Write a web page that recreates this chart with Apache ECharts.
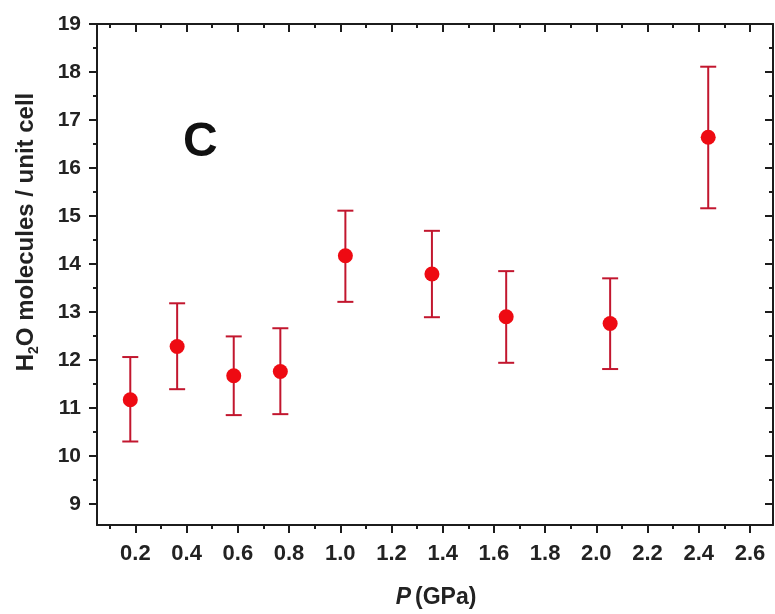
<!DOCTYPE html>
<html>
<head>
<meta charset="utf-8">
<script src="https://cdn.jsdelivr.net/npm/echarts@6/dist/echarts.min.js"></script>
<style>html,body{margin:0;padding:0;background:#fff;}#c{width:775px;height:614px;}</style>
</head>
<body>
<div id="c"></div>
<script>
// Data
var pressure = [0.18, 0.363, 0.584, 0.766, 1.02, 1.358, 1.648, 2.054, 2.437];
var waterCount = [11.17, 12.28, 11.67, 11.76, 14.17, 13.79, 12.90, 12.76, 16.64];
var errUpper = [12.06, 13.18, 12.49, 12.66, 15.11, 14.69, 13.85, 13.70, 18.11];
var errLower = [10.30, 11.39, 10.85, 10.87, 13.21, 12.89, 11.94, 11.81, 15.16];
var xMajorTicks = [0.2, 0.4, 0.6, 0.8, 1.0, 1.2, 1.4, 1.6, 1.8, 2.0, 2.2, 2.4, 2.6];
var xMinorTicks = [0.1, 0.3, 0.5, 0.7, 0.9, 1.1, 1.3, 1.5, 1.7, 1.9, 2.1, 2.3, 2.5];
var yMajorTicks = [9, 10, 11, 12, 13, 14, 15, 16, 17, 18, 19];
var yMinorTicks = [9.5, 10.5, 11.5, 12.5, 13.5, 14.5, 15.5, 16.5, 17.5, 18.5];

var FONT = 'Liberation Sans, Arial, sans-serif';
var AX = '#1c1c1c';
var XMIN = 0.05, XMAX = 2.69, YMIN = 8.56, YMAX = 19;

function xAx(pos, ticks, len, inside, labels, showLine) {
  return {
    type: 'value', position: pos, min: XMIN, max: XMAX, gridIndex: 0,
    axisLine: {show: showLine, onZero: false, lineStyle: {color: AX, width: 2}},
    axisTick: {show: true, customValues: ticks, length: len, inside: inside, lineStyle: {color: AX, width: 2}},
    axisLabel: labels ? {show: true, customValues: ticks, margin: 18, color: '#222', fontFamily: FONT, fontWeight: 'bold', fontSize: 22,
      formatter: function (v) { return v.toFixed(1); }} : {show: false},
    splitLine: {show: false}
  };
}
function yAx(pos, ticks, len, inside, labels, showLine) {
  return {
    type: 'value', position: pos, min: YMIN, max: YMAX, gridIndex: 0,
    axisLine: {show: showLine, onZero: false, lineStyle: {color: AX, width: 2}},
    axisTick: {show: true, customValues: ticks, length: len, inside: inside, lineStyle: {color: AX, width: 2}},
    axisLabel: labels ? {show: true, customValues: ticks, margin: 16, color: '#222', fontFamily: FONT, fontWeight: 'bold', fontSize: 21,
      formatter: function (v) { return String(Math.round(v)); }} : {show: false},
    splitLine: {show: false}
  };
}

var scatterData = pressure.map(function (x, i) { return [x, waterCount[i]]; });
var errData = pressure.map(function (x, i) { return [x, errLower[i], errUpper[i]]; });

var chart = echarts.init(document.getElementById('c'), null, {renderer: 'canvas'});
chart.setOption({
  backgroundColor: '#fff',
  animation: false,
  grid: {left: 97, right: 2, top: 24, bottom: 89},
  xAxis: [
    xAx('bottom', xMajorTicks, 8, false, true, true),
    xAx('bottom', xMinorTicks, 4, false, false, false),
    xAx('top', xMajorTicks, 8, true, false, true),
    xAx('top', xMinorTicks, 4, true, false, false)
  ],
  yAxis: [
    yAx('left', yMajorTicks, 8, false, true, true),
    yAx('left', yMinorTicks, 4, false, false, false),
    yAx('right', yMajorTicks, 8, true, false, true),
    yAx('right', yMinorTicks, 4, true, false, false)
  ],
  series: [
    {
      type: 'custom', xAxisIndex: 0, yAxisIndex: 0, z: 2,
      data: errData,
      renderItem: function (params, api) {
        var lo = api.coord([api.value(0), api.value(1)]);
        var hi = api.coord([api.value(0), api.value(2)]);
        var w = 8;
        var st = {stroke: '#c2162e', lineWidth: 2};
        return {type: 'group', children: [
          {type: 'line', shape: {x1: lo[0], y1: lo[1], x2: hi[0], y2: hi[1]}, style: st},
          {type: 'line', shape: {x1: lo[0] - w, y1: lo[1], x2: lo[0] + w, y2: lo[1]}, style: st},
          {type: 'line', shape: {x1: hi[0] - w, y1: hi[1], x2: hi[0] + w, y2: hi[1]}, style: st}
        ]};
      }
    },
    {
      type: 'scatter', xAxisIndex: 0, yAxisIndex: 0, z: 3,
      data: scatterData, symbol: 'circle', symbolSize: 15,
      itemStyle: {color: '#ee0a12', opacity: 1}
    }
  ],
  graphic: [
    {
      type: 'text', left: 183, top: 119,
      style: {text: 'C', font: 'bold 48px ' + FONT, fill: '#111'}
    },
    {
      type: 'text', x: 23, y: 232, rotation: Math.PI / 2,
      style: {
        text: '{a|H}{s|2}{a|O molecules / unit cell}',
        align: 'center', verticalAlign: 'middle',
        rich: {
          a: {fontFamily: FONT, fontWeight: 'bold', fontSize: 24, fill: '#222', lineHeight: 30, verticalAlign: 'bottom'},
          s: {fontFamily: FONT, fontWeight: 'bold', fontSize: 14, fill: '#222', verticalAlign: 'bottom', padding: [0, 0, -3, 0]}
        }
      }
    },
    {
      type: 'text', x: 436, y: 598,
      style: {
        text: '{i|P}{a|(GPa)}',
        align: 'center', verticalAlign: 'middle',
        rich: {
          i: {fontFamily: FONT, fontWeight: 'bold', fontStyle: 'italic', fontSize: 23, fill: '#222', padding: [0, 4, 0, 0]},
          a: {fontFamily: FONT, fontWeight: 'bold', fontSize: 23, fill: '#222'}
        }
      }
    }
  ]
});
</script>
</body>
</html>
